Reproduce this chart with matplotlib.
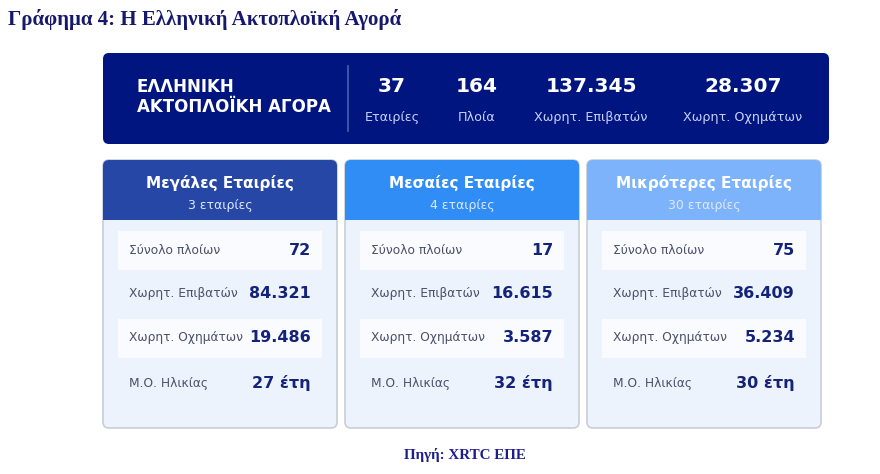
import matplotlib.pyplot as plt
from matplotlib.patches import FancyBboxPatch, Rectangle

# Summary banner
market_title = ["ΕΛΛΗΝΙΚΗ", "ΑΚΤΟΠΛΟΪΚΗ ΑΓΟΡΑ"]
market_values = ["37", "164", "137.345", "28.307"]
market_labels = ["Εταιρίες", "Πλοία", "Χωρητ. Επιβατών", "Χωρητ. Οχημάτων"]

# Company groups
groups = ["Μεγάλες Εταιρίες", "Μεσαίες Εταιρίες", "Μικρότερες Εταιρίες"]
group_counts = ["3 εταιρίες", "4 εταιρίες", "30 εταιρίες"]
row_labels = ["Σύνολο πλοίων", "Χωρητ. Επιβατών", "Χωρητ. Οχημάτων", "Μ.Ο. Ηλικίας"]
ships = ["72", "17", "75"]
pax_capacity = ["84.321", "16.615", "36.409"]
car_capacity = ["19.486", "3.587", "5.234"]
avg_age = ["27 έτη", "32 έτη", "30 έτη"]

header_colors = ["#2747a6", "#2f8df5", "#7db3fa"]
navy = "#001580"
value_color = "#14237a"

fig = plt.figure(figsize=(8.8, 4.74), dpi=100)
ax = fig.add_axes([0, 0, 1, 1])
ax.set_xlim(0, 880)
ax.set_ylim(474, 0)
ax.axis("off")

fig.text(8 / 880, 1 - 19 / 474, "Γράφημα 4: Η Ελληνική Ακτοπλοϊκή Αγορά",
         family="Liberation Serif", weight="bold", fontsize=15,
         color="#16196b", va="center", ha="left")

# banner
ax.add_patch(FancyBboxPatch((103, 53), 726, 91, boxstyle="round,pad=0,rounding_size=6",
                            fc=navy, ec="none"))
ax.text(137, 87, market_title[0], color="white", weight="bold", fontsize=12, va="center")
ax.text(137, 107, market_title[1], color="white", weight="bold", fontsize=12, va="center")
ax.plot([348, 348], [66, 131], color="#4b5fb0", lw=1.2)
stat_x = [392, 477, 591, 743]
for x, v, lab in zip(stat_x, market_values, market_labels):
    ax.text(x, 86, v, color="white", weight="bold", fontsize=14.5, ha="center", va="center")
    ax.text(x, 117, lab, color="#c9d2f5", fontsize=9.2, ha="center", va="center")

# cards
card_x = [103, 345, 587]
card_w = 234
values = list(zip(ships, pax_capacity, car_capacity, avg_age))
for i, x0 in enumerate(card_x):
    ax.add_patch(FancyBboxPatch((x0, 160), card_w, 268, boxstyle="round,pad=0,rounding_size=6",
                                fc="#edf3fc", ec="#c7ceda", lw=1.2))
    ax.add_patch(FancyBboxPatch((x0, 160), card_w, 60, boxstyle="round,pad=0,rounding_size=6",
                                fc=header_colors[i], ec="none"))
    ax.add_patch(Rectangle((x0, 205), card_w, 15, fc=header_colors[i], ec="none"))
    cx = x0 + card_w / 2
    ax.text(cx, 183, groups[i], color="white", weight="bold", fontsize=11,
            ha="center", va="center")
    ax.text(cx, 206, group_counts[i], color="#dfe8fb", fontsize=9,
            ha="center", va="center")
    row_y = [250, 294, 338, 383]
    for j, (lab, y) in enumerate(zip(row_labels, row_y)):
        if j % 2 == 0:
            ax.add_patch(Rectangle((x0 + 15, y - 19.5), 204, 39, fc="#f9fbff", ec="none"))
        ax.text(x0 + 26, y, lab, color="#4a5068", fontsize=8.8, ha="left", va="center")
        ax.text(x0 + 208, y, values[i][j], color=value_color, weight="bold", fontsize=11.5,
                ha="right", va="center")

fig.text(465 / 880, 1 - 455 / 474, "Πηγή: XRTC ΕΠΕ", family="Liberation Serif",
         weight="bold", fontsize=10.8, color="#1d1d8c", ha="center", va="center")

fig.savefig("out.png", dpi=100, facecolor="white")
